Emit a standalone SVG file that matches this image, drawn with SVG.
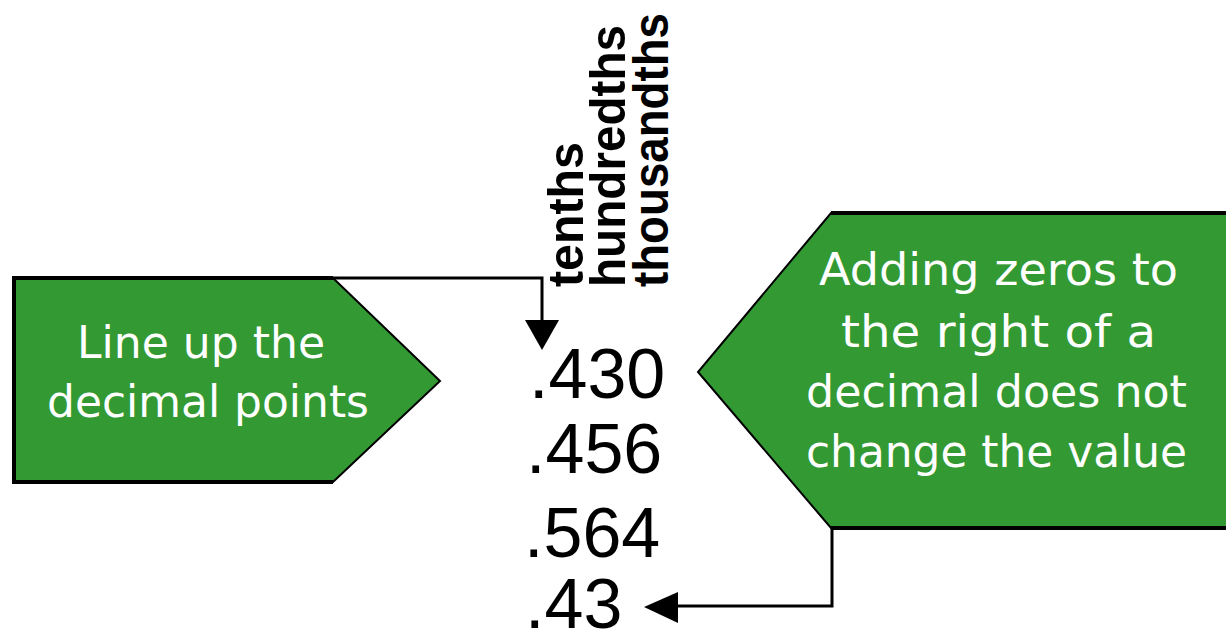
<svg xmlns="http://www.w3.org/2000/svg" width="1226" height="629" viewBox="0 0 1226 629">
  <style>
    .box { fill: #339933; stroke: #000; stroke-width: 2; }
    .edge { fill: none; stroke: #000; stroke-width: 4; }
    .btxt { font-family: "DejaVu Sans", "Liberation Sans", sans-serif; font-size: 44px; fill: #fff; }
    .num { font-family: "Liberation Sans", Arial, sans-serif; font-size: 70px; fill: #000; }
    .place { font-family: "Liberation Sans", Arial, sans-serif; font-size: 50px; font-weight: bold; fill: #000; }
    .conn { fill: none; stroke: #000; stroke-width: 3; }
    .head { fill: #000; stroke: none; }
  </style>
  <rect width="1226" height="629" fill="#fff"/>

  <g id="left-box">
    <polygon class="box" points="14,278 333,278 440,381 333,482 14,482"/>
    <polyline class="edge" points="333,278 14,278 14,482 333,482"/>
    <text class="btxt" x="77" y="358" textLength="248" lengthAdjust="spacingAndGlyphs">Line up the</text>
    <text class="btxt" x="47" y="417" textLength="322" lengthAdjust="spacingAndGlyphs">decimal points</text>
  </g>

  <g id="right-box">
    <polygon class="box" points="1240,213 831,213 698,372 831,528 1240,528"/>
    <polyline class="edge" points="831,213 1240,213"/>
    <polyline class="edge" points="831,528 1240,528"/>
    <text class="btxt" x="819" y="285" textLength="359" lengthAdjust="spacingAndGlyphs">Adding zeros to</text>
    <text class="btxt" x="841" y="347" textLength="315" lengthAdjust="spacingAndGlyphs">the right of a</text>
    <text class="btxt" x="806" y="407" textLength="381" lengthAdjust="spacingAndGlyphs">decimal does not</text>
    <text class="btxt" x="806" y="467" textLength="381" lengthAdjust="spacingAndGlyphs">change the value</text>
  </g>

  <g id="place-labels">
    <text class="place" transform="translate(583,287) rotate(-90)" textLength="145" lengthAdjust="spacingAndGlyphs">tenths</text>
    <text class="place" transform="translate(625,287) rotate(-90)" textLength="262" lengthAdjust="spacingAndGlyphs">hundredths</text>
    <text class="place" transform="translate(668,287) rotate(-90)" textLength="274" lengthAdjust="spacingAndGlyphs">thousandths</text>
  </g>

  <g id="numbers">
    <text class="num" x="529" y="398">.430</text>
    <text class="num" x="526" y="473">.456</text>
    <text class="num" x="524" y="557">.564</text>
    <text class="num" x="525" y="628">.43</text>
  </g>

  <g id="connectors">
    <polyline class="conn" points="333,278 542,278 542,322"/>
    <polygon class="head" points="525,320 559,320 542,350"/>
    <polyline class="conn" points="832,528 832,606 676,606"/>
    <polygon class="head" points="678,592 678,623 644,607"/>
  </g>
</svg>
